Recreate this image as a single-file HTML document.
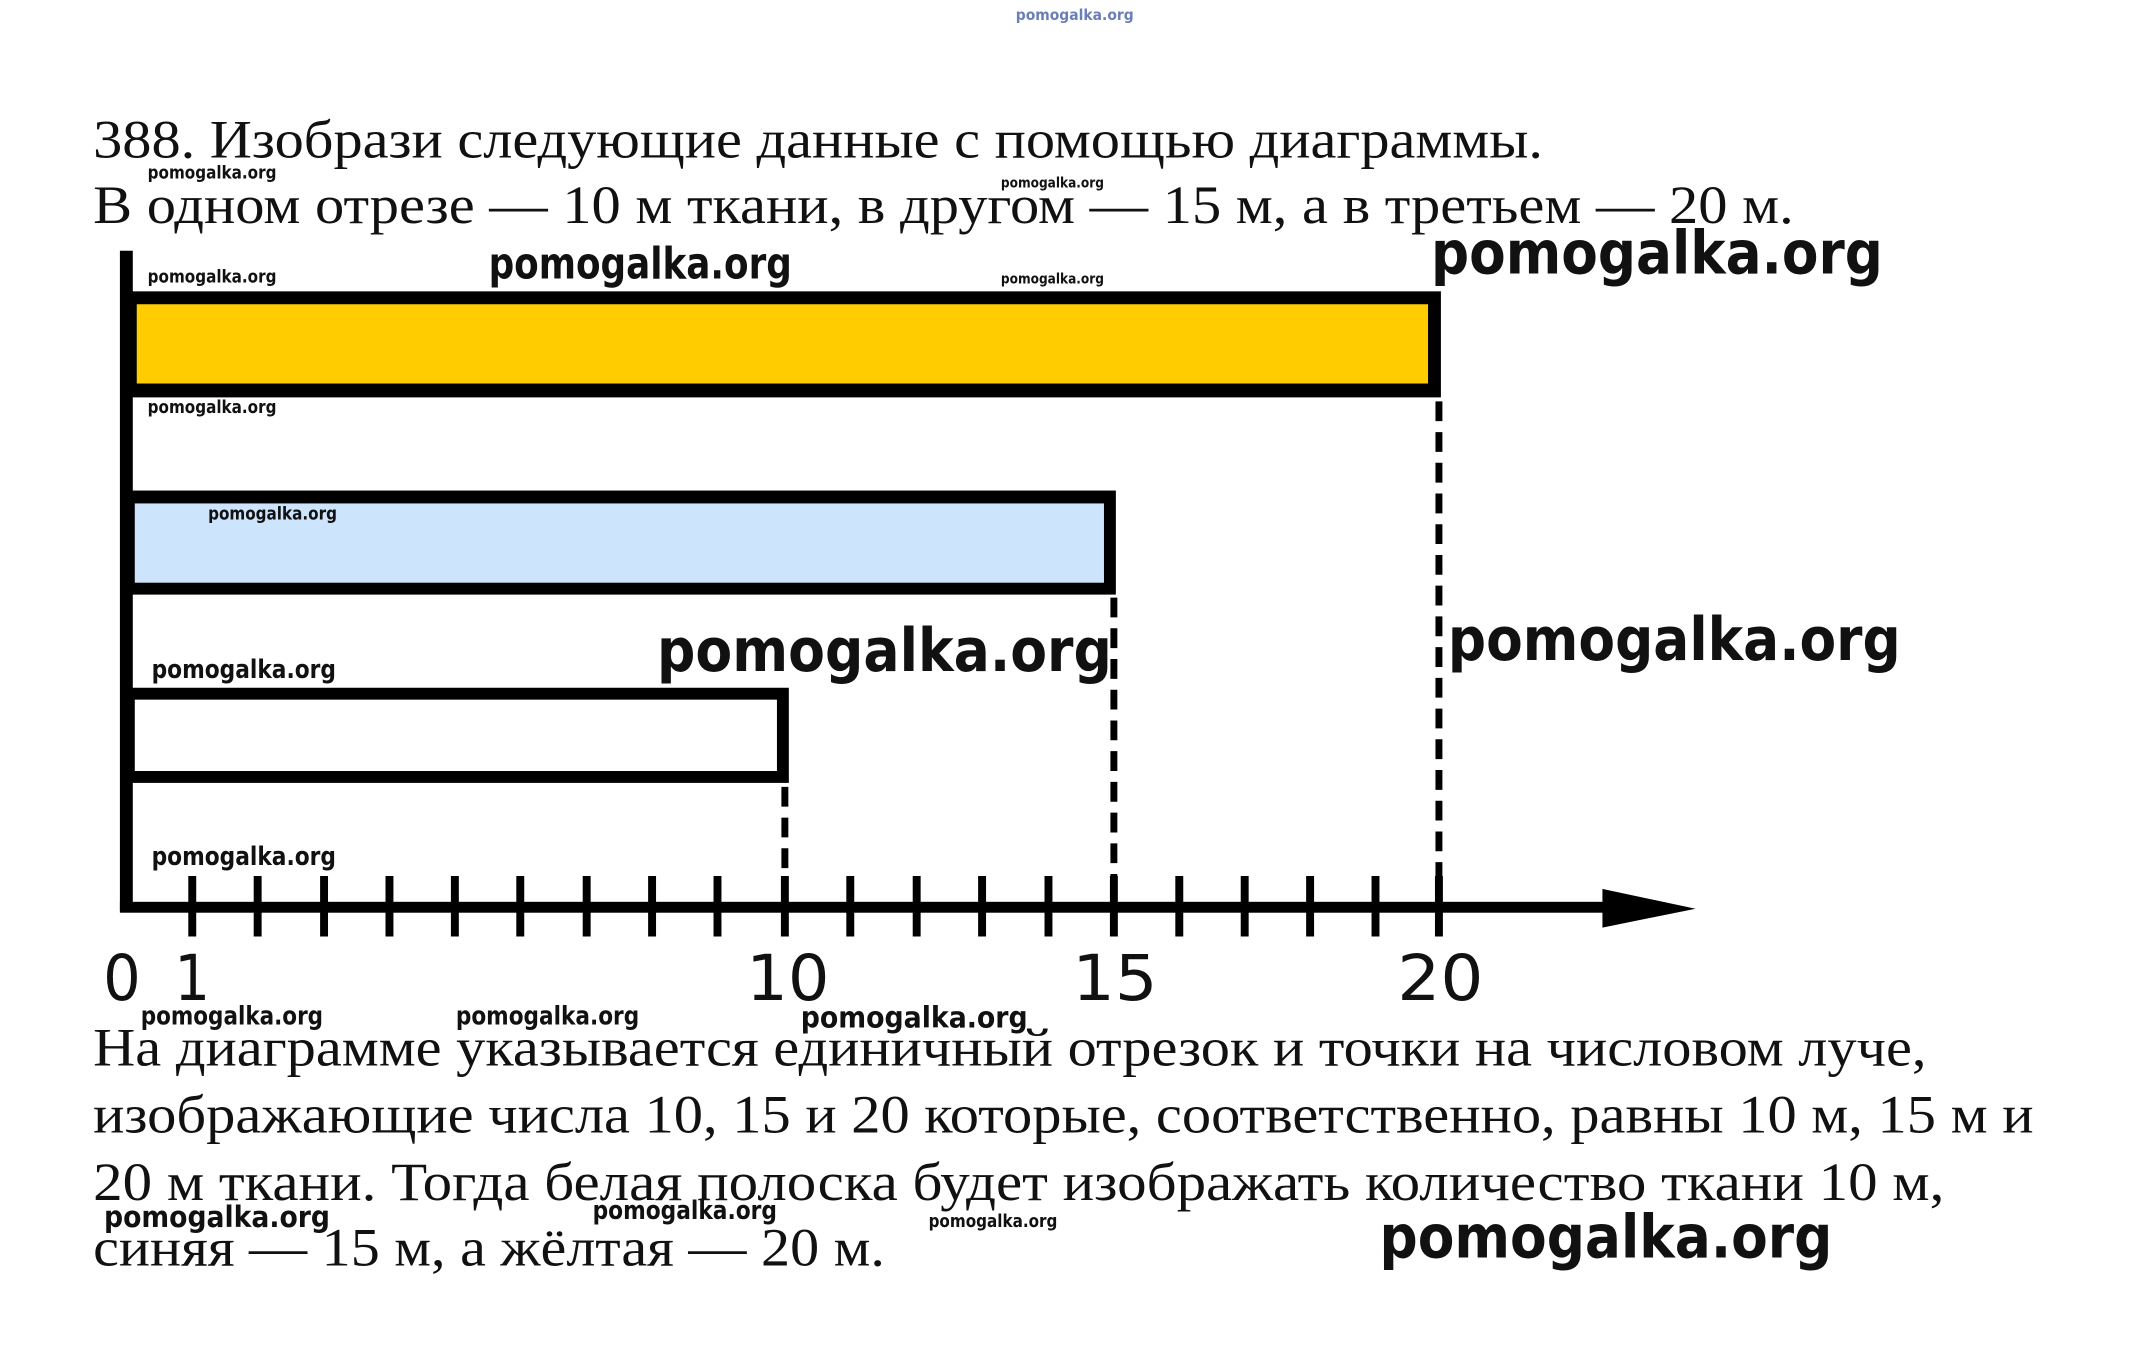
<!DOCTYPE html>
<html><head><meta charset="utf-8"><style>html,body{margin:0;padding:0;background:#fff}svg{display:block}</style></head>
<body>
<svg width="2145" height="1348" viewBox="0 0 2145 1348" xmlns="http://www.w3.org/2000/svg">
<g transform="scale(0.991)">
<g font-family="Liberation Serif, serif" font-size="54" fill="#111">
<text x="94" y="159" textLength="1463" lengthAdjust="spacingAndGlyphs">388. Изобрази следующие данные с помощью диаграммы.</text>
<text x="94" y="225" textLength="1716" lengthAdjust="spacingAndGlyphs">В одном отрезе — 10 м ткани, в другом — 15 м, а в третьем — 20 м.</text>
<text x="94" y="1075" textLength="1850" lengthAdjust="spacingAndGlyphs">На диаграмме указывается единичный отрезок и точки на числовом луче,</text>
<text x="94" y="1143" textLength="1958" lengthAdjust="spacingAndGlyphs">изображающие числа 10, 15 и 20 которые, соответственно, равны 10 м, 15 м и</text>
<text x="94" y="1211" textLength="1868" lengthAdjust="spacingAndGlyphs">20 м ткани. Тогда белая полоска будет изображать количество ткани 10 м,</text>
<text x="94" y="1277" textLength="799" lengthAdjust="spacingAndGlyphs">синяя — 15 м, а жёлтая — 20 м.</text>
</g>
<rect x="127" y="294" width="1327" height="107" fill="#000"/>
<rect x="138" y="307" width="1303" height="80" fill="#ffcc00"/>
<rect x="127" y="495" width="999" height="105" fill="#000"/>
<rect x="136" y="508" width="978" height="80" fill="#cce4fc"/>
<rect x="127" y="694" width="669" height="96" fill="#000"/>
<rect x="136" y="706" width="648" height="72" fill="#fff"/>
<rect x="121" y="253" width="13" height="666" fill="#000"/>
<rect x="121" y="910" width="1500" height="11" fill="#000"/>
<polygon points="1617,897 1711,917 1617,936" fill="#000"/>
<g stroke="#000" stroke-width="8">
<line x1="194" y1="884" x2="194" y2="945"/><line x1="260" y1="884" x2="260" y2="945"/><line x1="327" y1="884" x2="327" y2="945"/><line x1="393" y1="884" x2="393" y2="945"/><line x1="459" y1="884" x2="459" y2="945"/><line x1="525" y1="884" x2="525" y2="945"/><line x1="592" y1="884" x2="592" y2="945"/><line x1="658" y1="884" x2="658" y2="945"/><line x1="724" y1="884" x2="724" y2="945"/><line x1="792" y1="884" x2="792" y2="945"/><line x1="858" y1="884" x2="858" y2="945"/><line x1="925" y1="884" x2="925" y2="945"/><line x1="991" y1="884" x2="991" y2="945"/><line x1="1058" y1="884" x2="1058" y2="945"/><line x1="1124" y1="884" x2="1124" y2="945"/><line x1="1190" y1="884" x2="1190" y2="945"/><line x1="1256" y1="884" x2="1256" y2="945"/><line x1="1322" y1="884" x2="1322" y2="945"/><line x1="1388" y1="884" x2="1388" y2="945"/><line x1="1452" y1="884" x2="1452" y2="945"/>
</g>
<g stroke="#000" stroke-width="7" stroke-dasharray="20,11">
<line x1="1452" y1="405" x2="1452" y2="912"/>
<line x1="1124" y1="603" x2="1124" y2="912"/>
<line x1="792" y1="794" x2="792" y2="912"/>
</g>
<g font-family="DejaVu Sans, sans-serif" font-size="64" fill="#111">
<text x="104" y="1009" textLength="38" lengthAdjust="spacingAndGlyphs">0</text><text x="176" y="1009" textLength="36" lengthAdjust="spacingAndGlyphs">1</text>
<text x="753" y="1009" textLength="84" lengthAdjust="spacingAndGlyphs">10</text><text x="1082" y="1009" textLength="86" lengthAdjust="spacingAndGlyphs">15</text><text x="1410" y="1009" textLength="87" lengthAdjust="spacingAndGlyphs">20</text>
</g>
<g font-family="DejaVu Sans, sans-serif" font-weight="bold" fill="#111">
<text x="1025" y="20" font-size="15" fill="#6a7fb8" textLength="119" lengthAdjust="spacingAndGlyphs">pomogalka.org</text>
<text x="149" y="180" font-size="18" textLength="130" lengthAdjust="spacingAndGlyphs">pomogalka.org</text>
<text x="1010" y="189" font-size="14" textLength="104" lengthAdjust="spacingAndGlyphs">pomogalka.org</text>
<text x="149" y="285" font-size="18" textLength="130" lengthAdjust="spacingAndGlyphs">pomogalka.org</text>
<text x="1010" y="286" font-size="14" textLength="104" lengthAdjust="spacingAndGlyphs">pomogalka.org</text>
<text x="149" y="417" font-size="18" textLength="130" lengthAdjust="spacingAndGlyphs">pomogalka.org</text>
<text x="210" y="524" font-size="18" textLength="130" lengthAdjust="spacingAndGlyphs">pomogalka.org</text>
<text x="153" y="684" font-size="26" textLength="186" lengthAdjust="spacingAndGlyphs">pomogalka.org</text>
<text x="153" y="873" font-size="26" textLength="186" lengthAdjust="spacingAndGlyphs">pomogalka.org</text>
<text x="142" y="1034" font-size="26" textLength="184" lengthAdjust="spacingAndGlyphs">pomogalka.org</text>
<text x="460" y="1034" font-size="26" textLength="185" lengthAdjust="spacingAndGlyphs">pomogalka.org</text>
<text x="808" y="1037" font-size="30" textLength="229" lengthAdjust="spacingAndGlyphs">pomogalka.org</text>
<text x="105" y="1238" font-size="30" textLength="228" lengthAdjust="spacingAndGlyphs">pomogalka.org</text>
<text x="598" y="1230" font-size="26" textLength="186" lengthAdjust="spacingAndGlyphs">pomogalka.org</text>
<text x="937" y="1238" font-size="18" textLength="130" lengthAdjust="spacingAndGlyphs">pomogalka.org</text>
<text x="493" y="281" font-size="44" textLength="306" lengthAdjust="spacingAndGlyphs">pomogalka.org</text>
<text x="1444" y="276" font-size="60" textLength="456" lengthAdjust="spacingAndGlyphs">pomogalka.org</text>
<text x="663" y="677" font-size="60" textLength="459" lengthAdjust="spacingAndGlyphs">pomogalka.org</text>
<text x="1461" y="666" font-size="60" textLength="457" lengthAdjust="spacingAndGlyphs">pomogalka.org</text>
<text x="1392" y="1269" font-size="60" textLength="457" lengthAdjust="spacingAndGlyphs">pomogalka.org</text>
</g>
</g>
</svg>
</body></html>
